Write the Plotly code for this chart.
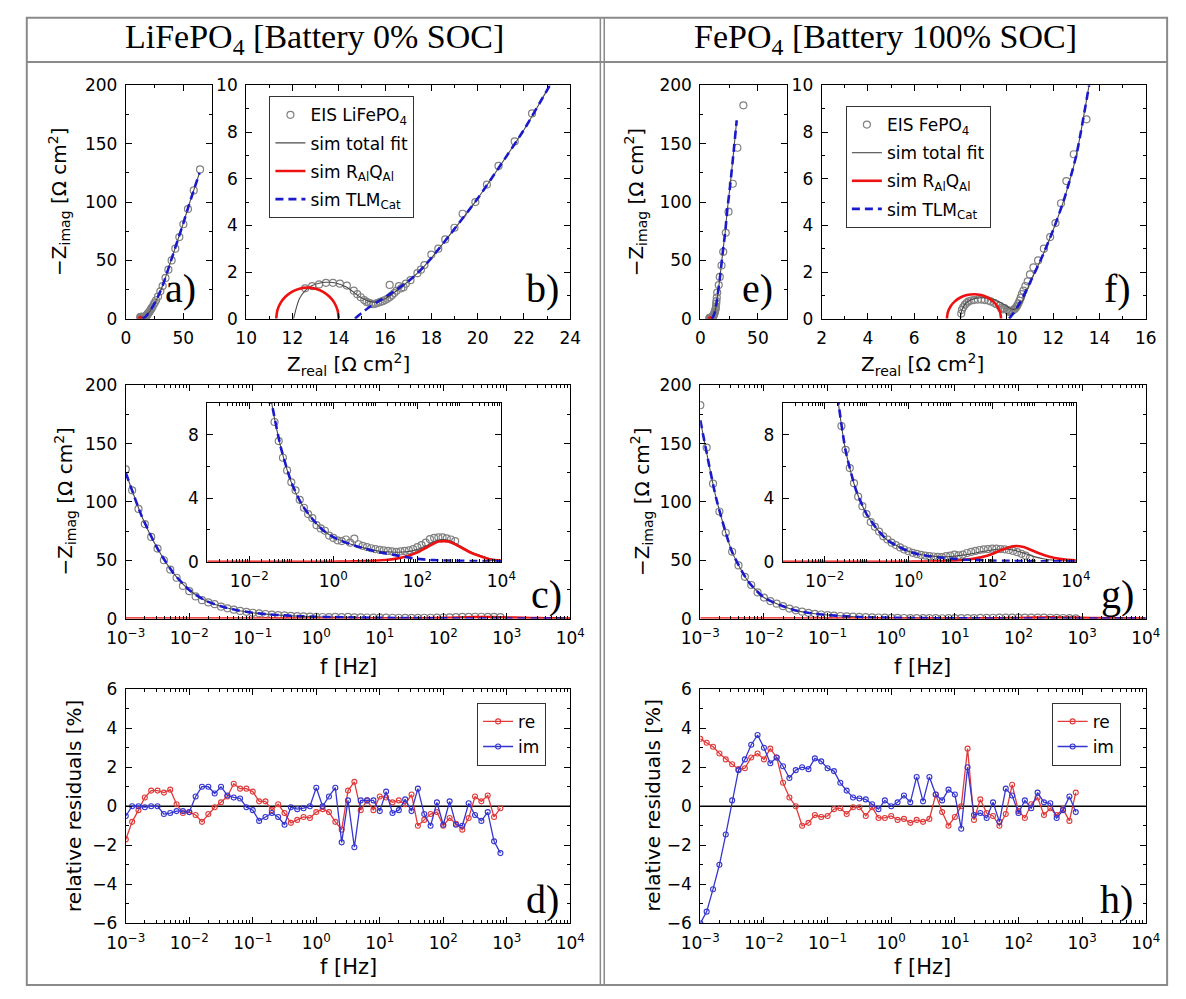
import plotly.graph_objects as go

W, H = 1186, 999
FONT = "DejaVu Sans"
SERIF = "Liberation Serif"

# ---------------- data ----------------
LOGF = [-3.0, -2.9, -2.8, -2.7, -2.6, -2.5, -2.4, -2.3, -2.2, -2.1,
        -2.0, -1.9, -1.8, -1.7, -1.6, -1.5, -1.4, -1.3, -1.2, -1.1,
        -1.0, -0.9, -0.8, -0.7, -0.6, -0.5, -0.4, -0.3, -0.2, -0.1,
        0.0, 0.1, 0.2, 0.3, 0.4, 0.5, 0.6, 0.7, 0.8, 0.9,
        1.0, 1.1, 1.2, 1.3, 1.4, 1.5, 1.6, 1.7, 1.8, 1.9,
        2.0, 2.1, 2.2, 2.3, 2.4, 2.5, 2.6, 2.7, 2.8, 2.9]

# LiFePO4 measured impedance
LFP_ZRE = [64.5, 59, 54, 50, 46.5, 43, 39.8, 37, 34.5, 32,
           30, 28, 26.3, 25.2, 24.3, 23.2, 22.35, 21.6, 20.9, 20.4,
           19.9, 19.35, 19.0, 18.6, 18.3, 18.0, 17.7, 17.55, 17.4, 17.1,
           16.9, 16.8, 16.7, 16.6, 16.5, 16.2, 16.4, 16.3, 16.2, 16.1,
           16.0, 15.9, 15.8, 15.7, 15.6, 15.5, 15.4, 15.3, 15.2, 15.1,
           14.95, 14.8, 14.65, 14.35, 14.05, 13.75, 13.45, 13.15, 12.85, 12.55]
LFP_ZIM = [128, 110, 94, 81, 70, 60, 50, 42, 35, 28,
           23.5, 19, 15.8, 13.8, 12.3, 10.2, 8.8, 7.6, 6.55, 5.75,
           5.0, 4.5, 3.9, 3.4, 3.0, 2.75, 2.3, 2.1, 1.95, 1.65,
           1.5, 1.35, 1.3, 1.4, 1.2, 1.45, 1.1, 1.0, 0.92, 0.85,
           0.8, 0.75, 0.72, 0.68, 0.65, 0.62, 0.65, 0.68, 0.72, 0.8,
           0.92, 1.05, 1.2, 1.42, 1.5, 1.54, 1.54, 1.47, 1.4, 1.3]

# FePO4 measured impedance
FP_ZRE = [37.4, 32.2, 28.2, 24.5, 22.1, 19.9, 18.4, 16.9, 16.0, 14.7,
          14.3, 14.0, 13.8, 13.6, 13.44, 12.89, 12.57, 12.34, 12.1, 11.87,
          11.6, 11.35, 11.15, 11.0, 10.9, 10.8, 10.72, 10.65, 10.6, 10.55,
          10.5, 10.45, 10.4, 10.35, 10.3, 10.25, 10.2, 10.15, 10.1, 10.07,
          10.0, 9.9, 9.83, 9.75, 9.68, 9.55, 9.44, 9.3, 9.2, 9.05,
          8.9, 8.75, 8.58, 8.45, 8.35, 8.27, 8.19, 8.12, 8.06, 8.03]
FP_ZIM = [183, 146.6, 115.7, 91.8, 73.6, 57.3, 45.6, 35.8, 28.8, 22.4,
          18.0, 15.0, 12.8, 10.6, 8.55, 7.05, 5.9, 4.95, 4.1, 3.5,
          3.0, 2.5, 2.2, 1.9, 1.6, 1.4, 1.2, 1.05, 0.9, 0.77,
          0.66, 0.56, 0.49, 0.43, 0.39, 0.35, 0.33, 0.31, 0.29, 0.35,
          0.38, 0.45, 0.40, 0.45, 0.55, 0.62, 0.68, 0.74, 0.78, 0.80,
          0.82, 0.82, 0.80, 0.78, 0.74, 0.68, 0.60, 0.50, 0.38, 0.22]

# relative residuals [%]
LFP_RES_RE = [-1.7, -0.8, -0.2, 0.45, 0.8, 0.8, 0.7, 0.85, 0.1, -0.35,
              -0.3, -0.45, -0.8, -0.4, -0.05, 0.2, 0.5, 1.15, 0.9, 0.9,
              0.75, 0.25, 0.25, -0.2, 0.1, -0.35, -0.85, -0.7, -0.55, -0.6,
              -0.3, -0.15, -0.3, -0.8, -1.2, 0.8, 1.25, -0.2, 0.3, -0.2,
              0.5, 0.45, 0.2, 0.3, 0.1, 0.6, -1.0, -0.7, -0.4, -0.3,
              -1.0, -0.6, -0.9, -1.2, -0.6, 0.5, 0.25, 0.55, -0.55, -0.1]
LFP_RES_IM = [-0.5, 0.0, 0.0, -0.05, 0.0, 0.0, -0.4, -0.35, -0.25, -0.25,
              -0.3, 0.5, 1.0, 1.0, 0.65, 1.0, 0.55, 0.45, 0.4, -0.05,
              -0.2, -0.75, -0.55, -0.35, -0.55, -0.95, -0.05, -0.15, -0.1, 0.0,
              0.95, 0.0, 0.5, 0.95, -1.85, 0.3, -2.1, 0.3, 0.3, 0.3,
              -0.25, 0.75, -0.35, -0.2, 0.35, -0.25, 0.9, -0.4, -1.0, 0.2,
              -0.95, 0.25, -0.95, -1.0, 0.15, -0.45, -0.75, -0.3, -1.8, -2.4]
FP_RES_RE = [3.45, 3.25, 3.05, 2.7, 2.4, 2.15, 1.9, 1.95, 2.5, 2.7,
             2.4, 2.95, 2.5, 1.2, 0.45, 0.0, -1.0, -0.85, -0.45, -0.55,
             -0.5, -0.15, -0.1, -0.4, -0.05, -0.05, -0.5, -0.05, -0.6, -0.6,
             -0.5, -0.7, -0.65, -0.85, -0.7, -0.8, -0.65, 0.6, -0.3, -1.0,
             -0.55, 0.0, 2.95, -0.7, 0.35, -0.35, -0.5, -1.0, -0.4, 1.1,
             -0.25, -0.6, 0.1, 0.45, -0.45, -0.1, -0.45, -0.15, -0.75, 0.7]
FP_RES_IM = [-6.0, -5.4, -4.25, -3.0, -1.45, 0.3, 1.85, 2.4, 3.15, 3.65,
             3.0, 2.2, 2.5, 2.05, 1.45, 1.85, 2.0, 1.9, 2.45, 2.3,
             1.95, 1.8, 1.2, 0.8, 0.45, 0.4, 0.35, 0.1, -0.15, 0.3,
             0.0, 0.2, 0.55, 0.2, 1.5, 0.25, 1.5, 0.6, 0.3, 0.85,
             0.6, -1.15, 2.0, -0.45, -0.35, -0.6, 0.2, -0.8, 0.9, 0.55,
             -0.35, 0.3, -0.1, 0.7, 0.2, 0.15, -0.6, -0.2, 0.5, -0.3]

# simulated curves vs frequency (imaginary part)
SIM_LOGF = [-3.0, -2.75, -2.5, -2.25, -2.0, -1.75, -1.5, -1.25, -1.0, -0.75,
            -0.5, -0.25, 0.0, 0.25, 0.5, 0.75, 1.0, 1.25, 1.5, 1.75,
            2.0, 2.25, 2.5, 2.75, 3.0, 3.25, 3.5, 3.75, 4.0]
LFP_TOT_IM = [125, 88, 60, 39, 24.5, 15.5, 10.5, 7.2, 5.0, 3.6,
              2.7, 2.0, 1.55, 1.26, 1.04, 0.855, 0.71, 0.63, 0.60, 0.625,
              0.77, 1.06, 1.36, 1.35, 1.02, 0.65, 0.39, 0.17, 0.09]
LFP_RQ_IM = [0, 0, 0, 0, 0, 0, 0, 0, 0, 0,
             0, 0, 0, 0.01, 0.02, 0.035, 0.062, 0.11, 0.196, 0.345,
             0.59, 0.944, 1.27, 1.28, 0.96, 0.60, 0.35, 0.14, 0.06]
LFP_TLM_IM = [125, 88, 60, 39, 24.5, 15.5, 10.5, 7.2, 5.0, 3.6,
              2.7, 2.0, 1.55, 1.25, 1.02, 0.82, 0.65, 0.52, 0.40, 0.28,
              0.18, 0.12, 0.09, 0.07, 0.06, 0.05, 0.04, 0.03, 0.03]
FP_TOT_IM = [170, 103, 57, 32, 18, 11.6, 7.0, 4.5, 3.0, 2.05,
             1.35, 0.97, 0.66, 0.47, 0.37, 0.32, 0.33, 0.40, 0.50, 0.63,
             0.74, 0.80, 0.74, 0.55, 0.32, 0.17, 0.09, 0.05, 0.03]
FP_RQ_IM = [0, 0, 0, 0, 0, 0, 0, 0, 0, 0,
            0, 0, 0, 0.01, 0.017, 0.03, 0.053, 0.094, 0.166, 0.29,
            0.49, 0.77, 0.98, 0.93, 0.66, 0.41, 0.24, 0.135, 0.076]
FP_TLM_IM = [170, 103, 57, 32, 18, 11.6, 7.0, 4.5, 3.0, 2.05,
             1.35, 0.97, 0.66, 0.46, 0.35, 0.27, 0.2, 0.15, 0.11, 0.09,
             0.07, 0.06, 0.05, 0.04, 0.04, 0.03, 0.03, 0.02, 0.02]

# simulated Nyquist curves
LFP_TOT_NRE = [12.05, 12.15, 12.3, 12.55, 12.85, 13.15, 13.45, 13.75, 14.05, 14.35,
               14.6, 14.85, 15.1, 15.4, 15.7, 16.0, 16.5, 17.0, 17.5, 18.0,
               19.0, 20.0, 21.0, 22.0, 23.0, 24.0, 26.0, 28.0, 30.0, 33.0,
               36.0, 40.0, 45.0, 50.0, 55.0, 60.0, 64.0]
LFP_TOT_NIM = [0.0, 0.4, 0.85, 1.2, 1.42, 1.52, 1.56, 1.55, 1.48, 1.35,
               1.17, 0.98, 0.83, 0.72, 0.72, 0.85, 1.2, 1.6, 2.05, 2.6,
               3.85, 5.15, 6.6, 8.1, 9.8, 11.5, 15.0, 19.0, 23.5, 31.0,
               40.0, 52.0, 67.0, 82.0, 98.0, 113.0, 125.0]
LFP_TLM_NRE = [14.7, 15.0, 15.3, 15.6, 16.0, 16.5, 17.0, 17.5, 18.0, 19.0,
               20.0, 21.0, 22.0, 23.0, 24.0, 26.0, 28.0, 30.0, 33.0, 36.0,
               40.0, 45.0, 50.0, 55.0, 60.0, 64.0]
LFP_TLM_NIM = [0.0, 0.25, 0.48, 0.68, 0.92, 1.25, 1.6, 2.05, 2.6, 3.85,
               5.15, 6.6, 8.1, 9.8, 11.5, 15.0, 19.0, 23.5, 31.0, 40.0,
               52.0, 67.0, 82.0, 98.0, 113.0, 125.0]
LFP_RQ_NRE = [14.0, 13.954, 13.819, 13.605, 13.325, 12.999, 12.65,
              12.301, 11.975, 11.695, 11.481, 11.346, 11.3]
LFP_RQ_NIM = [0.0, 0.344, 0.665, 0.94, 1.152, 1.285, 1.33,
              1.285, 1.152, 0.94, 0.665, 0.344, 0.0]

FP_TOT_NRE = [8.0, 8.04, 8.15, 8.35, 8.6, 8.9, 9.2, 9.5, 9.8, 10.05,
              10.25, 10.45, 10.7, 11.0, 11.5, 12.0, 12.5, 13.0, 13.55, 14.2,
              15.0, 17.0, 19.5, 21.5, 23.3, 26.1, 28.8, 31.6]
FP_TOT_NIM = [0.0, 0.3, 0.56, 0.76, 0.86, 0.9, 0.88, 0.8, 0.66, 0.5,
              0.4, 0.45, 0.8, 1.55, 2.6, 3.8, 5.2, 7.0, 10.0, 14.0,
              20.0, 35.0, 57.0, 73.0, 92.0, 116.0, 142.0, 170.0]
FP_TLM_NRE = [10.1, 10.3, 10.6, 11.0, 11.5, 12.0, 12.5, 13.0, 13.55, 14.2,
              15.0, 17.0, 19.5, 21.5, 23.3, 26.1, 28.8, 31.6]
FP_TLM_NIM = [0.0, 0.25, 0.75, 1.55, 2.6, 3.8, 5.2, 7.0, 10.0, 14.0,
              20.0, 35.0, 57.0, 73.0, 92.0, 116.0, 142.0, 170.0]
FP_RQ_NRE = [9.75, 9.71, 9.593, 9.407, 9.165, 8.883, 8.58,
             8.277, 7.995, 7.753, 7.567, 7.45, 7.41]
FP_RQ_NIM = [0.0, 0.272, 0.525, 0.742, 0.909, 1.014, 1.05,
             1.014, 0.909, 0.742, 0.525, 0.272, 0.0]

LOG_TICKS = [-3, -2, -1, 0, 1, 2, 3, 4]
INSET_TICKS = [-2, 0, 2, 4]

# ---------------- helpers ----------------
FREQ = [10 ** v for v in LOGF]
SIM_FREQ = [10 ** v for v in SIM_LOGF]

def sup_label(e):
    return "10<sup>" + str(e).replace("-", "\u2212") + "</sup>"

GREY_M = "#808080"
FIT_C = "#4a4a4a"
RED = "#ee1111"
BLUE = "#1a1acc"
RRED = "#e03a3a"
RBLUE = "#3535d0"

fig = go.Figure()

def ref(n):
    return ("x", "y") if n == 1 else ("x%d" % n, "y%d" % n)

def add_set(n, xs, ys, xt, yt_tot, xr, yr, xtl, ytl, legend=None, label=None):
    xa, ya = ref(n)
    show = legend is not None
    lg = legend if legend else "legend"
    fig.add_trace(go.Scatter(x=xs, y=ys, xaxis=xa, yaxis=ya, mode="markers",
                             marker=dict(symbol="circle-open", size=7, color=GREY_M,
                                         line=dict(width=1.2, color=GREY_M)),
                             name="EIS " + (label or ""), showlegend=show, legend=lg,
                             legendgroup="g1"))
    fig.add_trace(go.Scatter(x=xt, y=yt_tot, xaxis=xa, yaxis=ya, mode="lines",
                             line=dict(color=FIT_C, width=1.1, shape="spline", smoothing=0.6),
                             name="sim total fit", showlegend=show, legend=lg, legendgroup="g2"))
    fig.add_trace(go.Scatter(x=xr, y=yr, xaxis=xa, yaxis=ya, mode="lines",
                             line=dict(color=RED, width=2.6, shape="spline", smoothing=0.6),
                             name="sim R<sub>Al</sub>Q<sub>Al</sub>", showlegend=show, legend=lg,
                             legendgroup="g3"))
    fig.add_trace(go.Scatter(x=xtl, y=ytl, xaxis=xa, yaxis=ya, mode="lines",
                             line=dict(color=BLUE, width=2.6, dash="8px,5px", shape="spline", smoothing=0.6),
                             name="sim TLM<sub>Cat</sub>", showlegend=show, legend=lg, legendgroup="g4"))

# Nyquist panels a, b (LiFePO4) and e, f (FePO4)
add_set(1, LFP_ZRE, LFP_ZIM, LFP_TOT_NRE, LFP_TOT_NIM, LFP_RQ_NRE, LFP_RQ_NIM, LFP_TLM_NRE, LFP_TLM_NIM)
add_set(2, LFP_ZRE, LFP_ZIM, LFP_TOT_NRE, LFP_TOT_NIM, LFP_RQ_NRE, LFP_RQ_NIM, LFP_TLM_NRE, LFP_TLM_NIM,
        legend="legend", label="LiFePO<sub>4</sub>")
add_set(6, FP_ZRE, FP_ZIM, FP_TOT_NRE, FP_TOT_NIM, FP_RQ_NRE, FP_RQ_NIM, FP_TLM_NRE, FP_TLM_NIM)
add_set(7, FP_ZRE, FP_ZIM, FP_TOT_NRE, FP_TOT_NIM, FP_RQ_NRE, FP_RQ_NIM, FP_TLM_NRE, FP_TLM_NIM,
        legend="legend2", label="FePO<sub>4</sub>")
# Bode imaginary panels c, g and insets
for n in (3, 4):
    add_set(n, FREQ, LFP_ZIM, SIM_FREQ, LFP_TOT_IM, SIM_FREQ, LFP_RQ_IM, SIM_FREQ, LFP_TLM_IM)
for n in (8, 9):
    add_set(n, FREQ, FP_ZIM, SIM_FREQ, FP_TOT_IM, SIM_FREQ, FP_RQ_IM, SIM_FREQ, FP_TLM_IM)

# residual panels d, h
def add_res(n, re, im, lg):
    xa, ya = ref(n)
    fig.add_trace(go.Scatter(x=FREQ, y=re, xaxis=xa, yaxis=ya, mode="lines+markers", name="re",
                             line=dict(color=RRED, width=1.3),
                             marker=dict(symbol="circle-open", size=5, color=RRED, line=dict(width=1.1, color=RRED)),
                             legend=lg, legendgroup="r1"))
    fig.add_trace(go.Scatter(x=FREQ, y=im, xaxis=xa, yaxis=ya, mode="lines+markers", name="im",
                             line=dict(color=RBLUE, width=1.3),
                             marker=dict(symbol="circle-open", size=5, color=RBLUE, line=dict(width=1.1, color=RBLUE)),
                             legend=lg, legendgroup="r2"))

add_res(5, LFP_RES_RE, LFP_RES_IM, "legend3")
add_res(10, FP_RES_RE, FP_RES_IM, "legend4")

# ---------------- layout ----------------
BOXES = {  # n: (x_left, x_right, y_top, y_bottom) in pixels
    1: (109, 198, 77, 315),
    2: (233, 567, 77, 315),
    3: (109, 567, 383, 621),
    4: (193, 496, 401, 563),
    5: (109, 567, 693, 932),
    6: (701, 790, 77, 315),
    7: (826, 1160, 77, 315),
    8: (701, 1160, 383, 621),
    9: (786, 1088, 401, 563),
    10: (701, 1160, 693, 932),
}

def base_axis():
    return dict(showline=True, linecolor="black", linewidth=1, mirror="allticks",
                ticks="inside", ticklen=6, tickwidth=1, tickcolor="black",
                showgrid=False, zeroline=False, ticklabelstandoff=4,
                tickfont=dict(family=FONT, size=17, color="black"))

def lin(rng, dtick, minor=None):
    d = base_axis()
    d.update(range=rng, dtick=dtick, tick0=0, tickmode="linear")
    if minor:
        d["minor"] = dict(dtick=minor, tick0=0, ticks="inside", ticklen=3, tickcolor="black", showgrid=False)
    return d

def logax(ticks):
    d = base_axis()
    d.update(type="log", range=[-3, 4], tickmode="array",
             tickvals=[10 ** t for t in ticks], ticktext=[sup_label(t) for t in ticks],
             minor=dict(dtick="D1", ticks="inside", ticklen=3, tickcolor="black", showgrid=False))
    return d

AX = {
    1: (lin([0, 75], 50, 25), lin([0, 200], 50, 25)),
    2: (lin([10, 24], 2, 1), lin([0, 10], 2, 1)),
    3: (logax(LOG_TICKS), lin([0, 200], 50, 25)),
    4: (logax(INSET_TICKS), lin([0, 10], 4, 2)),
    5: (logax(LOG_TICKS), lin([-6, 6], 2, 1)),
    6: (lin([0, 75], 50, 25), lin([0, 200], 50, 25)),
    7: (lin([2, 16], 2, 1), lin([0, 10], 2, 1)),
    8: (logax(LOG_TICKS), lin([0, 200], 50, 25)),
    9: (logax(INSET_TICKS), lin([0, 10], 4, 2)),
    10: (logax(LOG_TICKS), lin([-6, 6], 2, 1)),
}

layout = dict(width=W, height=H, margin=dict(l=0, r=0, t=0, b=0), autosize=False,
              paper_bgcolor="white", plot_bgcolor="white", showlegend=True)
for n, (xl, xr, yt, yb) in BOXES.items():
    xa, ya = AX[n]
    xname = "xaxis" if n == 1 else "xaxis%d" % n
    yname = "yaxis" if n == 1 else "yaxis%d" % n
    xa["domain"] = [xl / W, xr / W]
    ya["domain"] = [1 - yb / H, 1 - yt / H]
    xa["anchor"] = ref(n)[1]
    ya["anchor"] = ref(n)[0]
    layout[xname] = xa
    layout[yname] = ya

def leg(xp, yp, gap):
    return dict(x=xp / W, y=1 - yp / H, xanchor="left", yanchor="top", bgcolor="white",
                bordercolor="#333333", borderwidth=1, tracegroupgap=gap,
                font=dict(family=FONT, size=17, color="black"), itemwidth=30)

layout["legend"] = leg(257, 88, 3)
layout["legend2"] = leg(851, 98, 3)
layout["legend3"] = leg(471, 707, 0)
layout["legend4"] = leg(1063, 707, 0)
fig.update_layout(**layout)

# ---------------- annotations ----------------
def ann(text, xp, yp, size, family=FONT, angle=0):
    fig.add_annotation(text=text, x=xp / W, y=1 - yp / H, xref="paper", yref="paper",
                       showarrow=False, textangle=angle, xanchor="center", yanchor="middle",
                       font=dict(family=family, size=size, color="black"))

ann("LiFePO<sub>4</sub> [Battery 0% SOC]", 303, 30, 34, SERIF)
ann("FePO<sub>4</sub> [Battery 100% SOC]", 892, 30, 34, SERIF)

YT = "\u2212Z<sub>imag</sub> [\u03a9 cm<sup>2</sup>]"
XT = "Z<sub>real</sub> [\u03a9 cm<sup>2</sup>]"
ann(YT, 40, 196, 20, angle=-90)
ann(YT, 47, 502, 20, angle=-90)
ann("relative residuals [%]", 55, 812, 20, angle=-90)
ann(YT, 634, 196, 20, angle=-90)
ann(YT, 641, 502, 20, angle=-90)
ann("relative residuals [%]", 652, 812, 20, angle=-90)
ann(XT, 338, 362, 20)
ann(XT, 930, 362, 20)
for xp in (338, 930):
    ann("f [Hz]", xp, 670, 21)
    ann("f [Hz]", xp, 977, 21)

for t, xp, yp in [("a)", 165, 284), ("b)", 538, 284), ("c)", 543, 596), ("d)", 538, 908),
                  ("e)", 760, 284), ("f)", 1131, 284), ("g)", 1131, 596), ("h)", 1130, 908)]:
    ann(t, xp, yp, 40, SERIF)

# zero lines in residual panels
for n in (5, 10):
    xa, ya = ref(n)
    fig.add_shape(type="line", xref=xa + " domain", yref=ya, x0=0, x1=1, y0=0, y1=0,
                  line=dict(color="black", width=1.3), layer="below")

# table frame
FR = "#8a8a8a"
def pline(x0, y0, x1, y1, w=2):
    fig.add_shape(type="line", xref="paper", yref="paper", x0=x0 / W, x1=x1 / W,
                  y0=1 - y0 / H, y1=1 - y1 / H, line=dict(color=FR, width=w))
fig.add_shape(type="rect", xref="paper", yref="paper", x0=7 / W, x1=1182 / W,
              y0=1 - 995 / H, y1=1 - 8 / H, line=dict(color=FR, width=2))
pline(7, 53, 1182, 53)
pline(598, 8, 598, 995, 1.5)
pline(602, 8, 602, 995, 1.5)

fig.write_html("out.html")
